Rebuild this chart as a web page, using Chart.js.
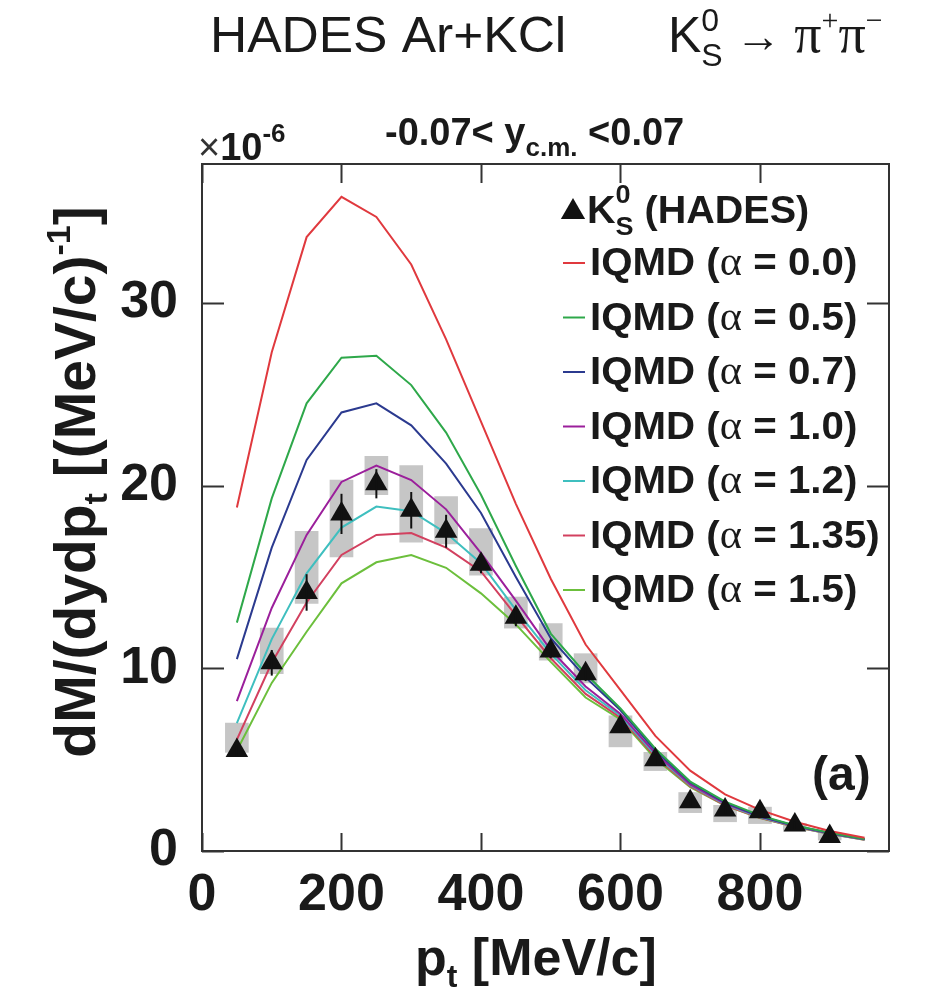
<!DOCTYPE html>
<html>
<head>
<meta charset="utf-8">
<script src="https://cdn.jsdelivr.net/npm/chart.js@4.4.1/dist/chart.umd.min.js"></script>
<style>
  html, body { margin: 0; padding: 0; background: #fff; }
  #wrap { width: 935px; height: 1001px; position: relative; }
</style>
</head>
<body>
<div id="wrap"><canvas id="spectrum"></canvas></div>
<script>
// transverse momentum bins of the IQMD curves [MeV/c]
const modelPt = [50, 100, 150, 200, 250, 300, 350, 400, 450, 500, 550, 600, 650, 700, 750, 800, 850, 900, 950];

// IQMD predictions, units of 1e-6 (MeV/c)^-1
const iqmdA00 = [18.8, 27.3, 33.6, 35.8, 34.7, 32.1, 28.0, 23.5, 19.0, 14.9, 11.3, 8.8, 6.3, 4.4, 3.1, 2.25, 1.6, 1.1, 0.72];
const iqmdA05 = [12.5, 19.3, 24.5, 27.0, 27.1, 25.5, 22.9, 19.5, 15.6, 11.9, 9.7, 7.8, 5.6, 3.8, 2.7, 1.95, 1.4, 1.0, 0.66];
const iqmdA07 = [10.5, 16.6, 21.4, 24.0, 24.5, 23.3, 21.2, 18.5, 15.0, 11.65, 9.5, 7.7, 5.5, 3.75, 2.65, 1.9, 1.38, 0.98, 0.65];
const iqmdA10 = [8.2, 13.3, 17.3, 20.2, 21.1, 20.3, 18.7, 16.3, 13.7, 11.0, 9.0, 7.5, 5.35, 3.65, 2.6, 1.88, 1.36, 0.96, 0.64];
const iqmdA12 = [7.0, 11.6, 15.2, 17.7, 18.85, 18.6, 17.4, 15.75, 13.2, 10.8, 8.8, 7.4, 5.25, 3.6, 2.55, 1.85, 1.35, 0.95, 0.63];
const iqmdA135 = [6.1, 10.3, 13.6, 16.2, 17.3, 17.4, 16.6, 15.3, 12.9, 10.55, 8.6, 7.3, 5.15, 3.55, 2.5, 1.82, 1.33, 0.94, 0.62];
const iqmdA15 = [5.5, 9.2, 12.0, 14.65, 15.8, 16.2, 15.5, 14.1, 12.4, 10.35, 8.4, 7.2, 5.05, 3.5, 2.48, 1.8, 1.32, 0.93, 0.62];

const alphaValues = ['0.0', '0.5', '0.7', '1.0', '1.2', '1.35', '1.5'];
const curveColors = ['#e0393e', '#2ea84a', '#2b3a8f', '#9b1f9b', '#3fbfbf', '#d2405f', '#6cbf3c'];

// HADES K0s measurement
const hadesPt = [50, 100, 150, 200, 250, 300, 350, 400, 450, 500, 550, 600, 650, 700, 750, 800, 850, 900];
const hadesYield = [5.5, 10.3, 14.15, 18.45, 20.1, 18.65, 17.5, 15.7, 12.8, 10.95, 9.7, 6.8, 5.0, 2.7, 2.25, 2.15, 1.42, 0.8];
const hadesStat = [0.3, 0.7, 1.0, 1.1, 0.8, 1.0, 0.9, 0.5, 0.5, 0.4, 0.4, 0.3, 0.3, 0.2, 0.2, 0.2, 0.2, 0.2];
const hadesSysLo = [5.4, 9.7, 13.55, 16.1, 19.5, 16.9, 16.8, 15.1, 12.2, 10.45, 9.2, 5.7, 4.4, 2.1, 1.6, 1.5, 1.1, 0.6];
const hadesSysHi = [7.0, 12.2, 17.5, 20.3, 21.6, 21.1, 19.4, 17.65, 13.9, 12.45, 10.8, 7.4, 5.4, 3.2, 2.5, 2.4, 1.5, 1.0];

const xTicks = [0, 200, 400, 600, 800];
const yTicks = [0, 10, 20, 30];

const SANS = '"Liberation Sans", Arial, sans-serif';
const SERIF = '"Liberation Serif", "DejaVu Serif", serif';
const INK = '#1a1a1a';
const bold = (n) => 'bold ' + n + 'px ' + SANS;

// draws a run of text pieces (sub/superscripts via dy, stacked via keep)
function richText(ctx, x, y, parts, align, sx) {
  sx = sx || 1;
  ctx.save();
  ctx.translate(x, y);
  ctx.scale(sx, 1);
  let total = 0;
  parts.forEach((p) => {
    ctx.font = p.f;
    p.w = ctx.measureText(p.t).width;
    if (!p.keep) total += p.w;
  });
  let cx = align === 'center' ? -total / 2 : 0;
  ctx.textBaseline = 'alphabetic';
  ctx.textAlign = 'left';
  parts.forEach((p) => {
    ctx.font = p.f;
    ctx.fillStyle = p.c || INK;
    ctx.fillText(p.t, cx, p.dy || 0);
    if (!p.keep) cx += p.w;
  });
  ctx.restore();
}

function triangle(ctx, cx, cy, r) {
  ctx.beginPath();
  ctx.moveTo(cx, cy - r);
  ctx.lineTo(cx + r * 0.866, cy + r * 0.5);
  ctx.lineTo(cx - r * 0.866, cy + r * 0.5);
  ctx.closePath();
  ctx.fill();
}

const modelSets = [iqmdA00, iqmdA05, iqmdA07, iqmdA10, iqmdA12, iqmdA135, iqmdA15].map((vals, i) => ({
  type: 'line',
  label: 'IQMD (α = ' + alphaValues[i] + ')',
  data: modelPt.map((x, j) => ({ x: x, y: vals[j] })),
  borderColor: curveColors[i],
  borderWidth: 2,
  pointRadius: 0,
  tension: 0,
  fill: false,
  order: 2,
}));

const sysBoxes = {
  type: 'bar',
  label: 'sys',
  data: hadesPt.map((x, j) => ({ x: x, y: [hadesSysLo[j], hadesSysHi[j]] })),
  backgroundColor: 'rgba(192,192,192,0.9)',
  borderWidth: 0,
  barThickness: 23,
  order: 3,
};

const hadesPoints = {
  type: 'line',
  label: 'K0s (HADES)',
  data: hadesPt.map((x, j) => ({ x: x, y: hadesYield[j] })),
  showLine: false,
  pointStyle: 'triangle',
  pointRadius: 13,
  pointBackgroundColor: '#111',
  pointBorderWidth: 0,
  order: 1,
};

// frame, inward ticks, stat errors and all the annotation text
const decorations = {
  id: 'decorations',
  afterDatasetsDraw(chart) {
    const ctx = chart.ctx;
    const xs = chart.scales.x, ys = chart.scales.y;
    ctx.save();
    ctx.strokeStyle = '#111';
    ctx.lineWidth = 2;
    hadesPt.forEach((x, j) => {
      const px = xs.getPixelForValue(x);
      ctx.beginPath();
      ctx.moveTo(px, ys.getPixelForValue(hadesYield[j] - hadesStat[j]));
      ctx.lineTo(px, ys.getPixelForValue(hadesYield[j] + hadesStat[j]));
      ctx.stroke();
    });
    ctx.restore();
  },
  afterDraw(chart) {
    const ctx = chart.ctx;
    const a = chart.chartArea;
    const xs = chart.scales.x, ys = chart.scales.y;
    ctx.save();
    ctx.strokeStyle = '#333';
    ctx.lineWidth = 2;
    ctx.strokeRect(a.left, a.top, a.right - a.left, a.bottom - a.top);
    ctx.beginPath();
    xTicks.forEach((v) => {
      const px = Math.round(xs.getPixelForValue(v)) + 0.5;
      ctx.moveTo(px, a.bottom); ctx.lineTo(px, a.bottom - 18);
      ctx.moveTo(px, a.top); ctx.lineTo(px, a.top + 19);
    });
    yTicks.forEach((v) => {
      const py = Math.round(ys.getPixelForValue(v)) + 0.5;
      ctx.moveTo(a.left, py); ctx.lineTo(a.left + 22, py);
      ctx.moveTo(a.right, py); ctx.lineTo(a.right - 22, py);
    });
    ctx.stroke();
    ctx.restore();

    // headline
    richText(ctx, 210, 52, [{ t: 'HADES Ar+KCl', f: '50px ' + SANS }], 'left', 1.03);
    richText(ctx, 668, 52, [
      { t: 'K', f: '50px ' + SANS },
      { t: '0', f: '32px ' + SANS, dy: -21, keep: true },
      { t: 'S', f: '32px ' + SANS, dy: 14 },
      { t: ' \u2192 ', f: '46px ' + SANS },
      { t: 'π', f: '54px ' + SERIF },
      { t: '+', f: '30px ' + SERIF, dy: -22 },
      { t: 'π', f: '54px ' + SERIF },
      { t: '\u2212', f: '30px ' + SERIF, dy: -22 },
    ], 'left');

    // axis multiplier and rapidity window
    richText(ctx, 198, 160, [
      { t: '\u00d7', f: '38px ' + SANS, c: '#333' },
      { t: '10', f: bold(38) },
      { t: '-6', f: bold(26), dy: -18 },
    ], 'left');
    richText(ctx, 385, 145, [
      { t: '-0.07< y', f: bold(38) },
      { t: 'c.m.', f: bold(26), dy: 11 },
      { t: ' <0.07', f: bold(38) },
    ], 'left');

    // legend
    ctx.fillStyle = '#111';
    triangle(ctx, 573, 212, 14);
    richText(ctx, 587, 223, [
      { t: 'K', f: bold(38) },
      { t: '0', f: bold(26), dy: -20, keep: true },
      { t: 'S', f: bold(26), dy: 12 },
      { t: ' (HADES)', f: bold(38) },
    ], 'left', 1.04);
    chart.data.datasets.filter((d) => d.label.startsWith('IQMD')).forEach((d, i) => {
      const base = 275 + i * 54.5;
      ctx.strokeStyle = d.borderColor;
      ctx.lineWidth = 2;
      ctx.beginPath();
      ctx.moveTo(563, base - 12);
      ctx.lineTo(585, base - 12);
      ctx.stroke();
      richText(ctx, 590, base, [
        { t: 'IQMD (', f: bold(38) },
        { t: 'α', f: '40px ' + SERIF },
        { t: ' = ' + alphaValues[i] + ')', f: bold(38) },
      ], 'left', 1.06);
    });

    richText(ctx, 812, 790, [{ t: '(a)', f: bold(48) }], 'left');

    // axis titles
    richText(ctx, 415, 975, [
      { t: 'p', f: bold(52) },
      { t: 't', f: bold(32), dy: 12 },
      { t: ' [MeV/c]', f: bold(52) },
    ], 'left');
    ctx.save();
    ctx.translate(95, 482);
    ctx.rotate(-Math.PI / 2);
    richText(ctx, 0, 0, [
      { t: 'dM/(dydp', f: bold(57) },
      { t: 't', f: bold(34), dy: 12 },
      { t: ' [(MeV/c)', f: bold(57) },
      { t: '-1', f: bold(34), dy: -25 },
      { t: ']', f: bold(57) },
    ], 'center');
    ctx.restore();
  },
};

new Chart(document.getElementById('spectrum'), {
  type: 'line',
  data: { datasets: [sysBoxes, ...modelSets, hadesPoints] },
  options: {
    responsive: true,
    maintainAspectRatio: false,
    animation: false,
    devicePixelRatio: 1,
    layout: { padding: { top: 164, right: 46, left: 0, bottom: 0 } },
    plugins: { legend: { display: false }, tooltip: { enabled: false } },
    scales: {
      x: {
        type: 'linear',
        min: 0,
        max: 985,
        offset: false,
        grid: { display: false },
        border: { display: false },
        afterBuildTicks: (s) => { s.ticks = xTicks.map((v) => ({ value: v })); },
        ticks: {
          padding: 5,
          color: INK,
          font: { family: SANS, weight: 'bold', size: 52 },
          maxRotation: 0,
          autoSkip: false,
        },
        afterFit: (s) => { s.height = 150; },
      },
      y: {
        type: 'linear',
        min: 0,
        max: 37.6,
        grid: { display: false },
        border: { display: false },
        afterBuildTicks: (s) => { s.ticks = yTicks.map((v) => ({ value: v })); },
        ticks: {
          padding: 16,
          color: INK,
          font: { family: SANS, weight: 'bold', size: 52 },
          autoSkip: false,
        },
        afterFit: (s) => { s.width = 202; },
      },
    },
  },
  plugins: [decorations],
});
</script>
</body>
</html>
